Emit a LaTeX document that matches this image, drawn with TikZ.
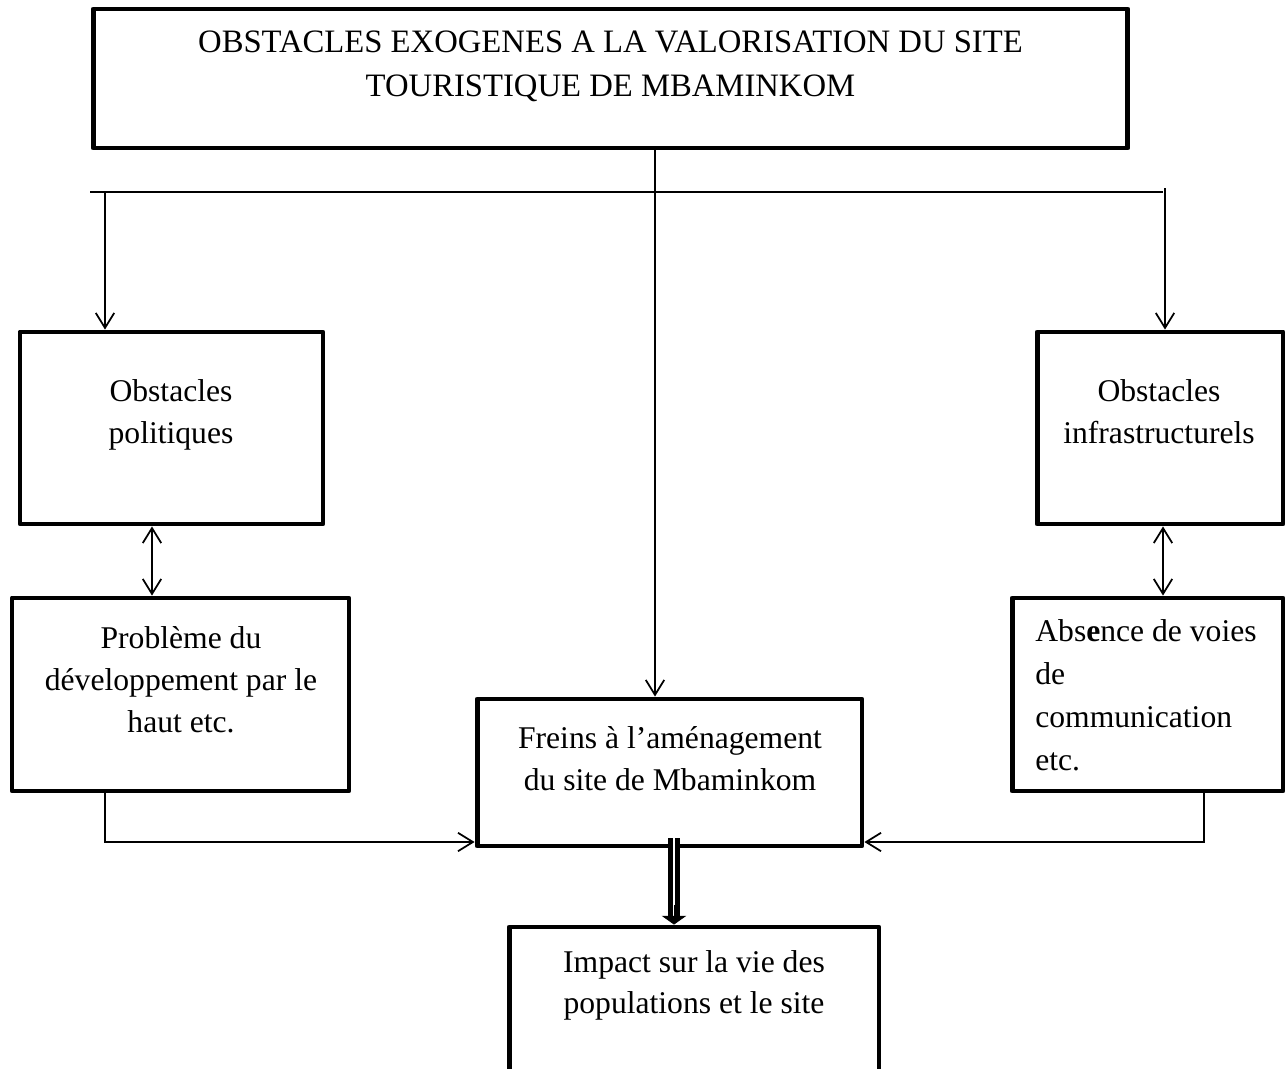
\documentclass[tikz,border=0pt]{standalone}
\usepackage{fontspec}
\setmainfont{Liberation Serif}
\usetikzlibrary{arrows.meta}

\tikzset{
  box/.style={draw, line width=2.8pt, line join=round, inner sep=0pt},
  txt/.style={align=center, inner sep=0pt, anchor=base, font=\fontsize{18}{23.9}\selectfont},
  link/.style={line width=1pt},
  arr/.style={link, -{Straight Barb[length=8.5pt,width=10.5pt]}},
  darr/.style={link, {Straight Barb[length=8.5pt,width=10.5pt]}-{Straight Barb[length=8.5pt,width=10.5pt]}},
  dbl/.style={double, line width=2.85pt, double distance=1.1pt},
  tip/.style={line width=0.4pt, -{Triangle[length=5pt,width=14pt]}},
}

\begin{document}
\begin{tikzpicture}[x=0.02cm, y=-0.02cm]
  \clip (0,0) rectangle (1287,1068);

  % boxes
  \node[box, minimum width=20.7cm, minimum height=2.78cm] (title) at (610.5,78.5) {};
  \node[box, minimum width=6.06cm, minimum height=3.84cm] (pol) at (171.5,428) {};
  \node[box, minimum width=4.92cm, minimum height=3.84cm] (infra) at (1160,428) {};
  \node[box, minimum width=6.74cm, minimum height=3.86cm] (prob) at (180.5,694.5) {};
  \node[box, minimum width=5.42cm, minimum height=3.86cm] (abs) at (1147.5,694.5) {};
  \node[box, minimum width=7.7cm, minimum height=2.94cm] (freins) at (669.5,772.5) {};
  \node[box, minimum width=7.4cm, minimum height=3.86cm] (impact) at (694,1023.5) {};

  % texts (anchored on the baseline of their last line)
  \node[txt, font=\fontsize{18.6}{25}\selectfont] (titletxt) at (610.5,96) {OBSTACLES EXOGENES A LA VALORISATION DU SITE\\TOURISTIQUE DE MBAMINKOM};
  \node[txt] (poltxt) at (171,443) {Obstacles\\politiques};
  \node[txt] (infratxt) at (1159,443) {Obstacles\\infrastructurels};
  \node[txt] (probtxt) at (181,732) {Problème du\\développement par le\\haut etc.};
  \node[txt, align=left, anchor=base west, font=\fontsize{18}{24.3}\selectfont] (abstxt) at (1035,770) {Abs\textbf{e}nce de voies\\de\\communication\\etc.};
  \node[txt] (freinstxt) at (670,790) {Freins à l’aménagement\\du site de Mbaminkom};
  \node[txt, font=\fontsize{18}{22.8}\selectfont] (impacttxt) at (694,1013) {Impact sur la vie des\\populations et le site};

  % connectors
  \coordinate (hl) at (90,192);
  \coordinate (hr) at (1163,192);
  \coordinate (lt) at (105,192);
  \coordinate (rt) at (1165,188);
  \coordinate (mt) at (655,148);
  \coordinate (ld) at (152,560);
  \coordinate (rd) at (1163,560);
  \coordinate (lb) at (105,842);
  \coordinate (rb) at (1204,842);
  \coordinate (fd) at (674,838);
  \coordinate (ft) at (674,905);

  \draw[link] (hl) -- (hr);
  \draw[arr] (lt) -- (lt |- pol.north);
  \draw[arr] (rt) -- (rt |- infra.north);
  \draw[arr] (title.south -| mt) -- (freins.north -| mt);
  \draw[darr] (pol.south -| ld) -- (prob.north -| ld);
  \draw[darr] (infra.south -| rd) -- (abs.north -| rd);
  \draw[arr] (prob.south -| lb) -- (lb) -- (lb -| freins.west);
  \draw[arr] (abs.south -| rb) -- (rb) -- (rb -| freins.east);
  \draw[dbl, shorten >=4pt] (fd) -- (fd |- impact.north);
  \draw[tip] (ft) -- (ft |- impact.north);
\end{tikzpicture}
\end{document}
